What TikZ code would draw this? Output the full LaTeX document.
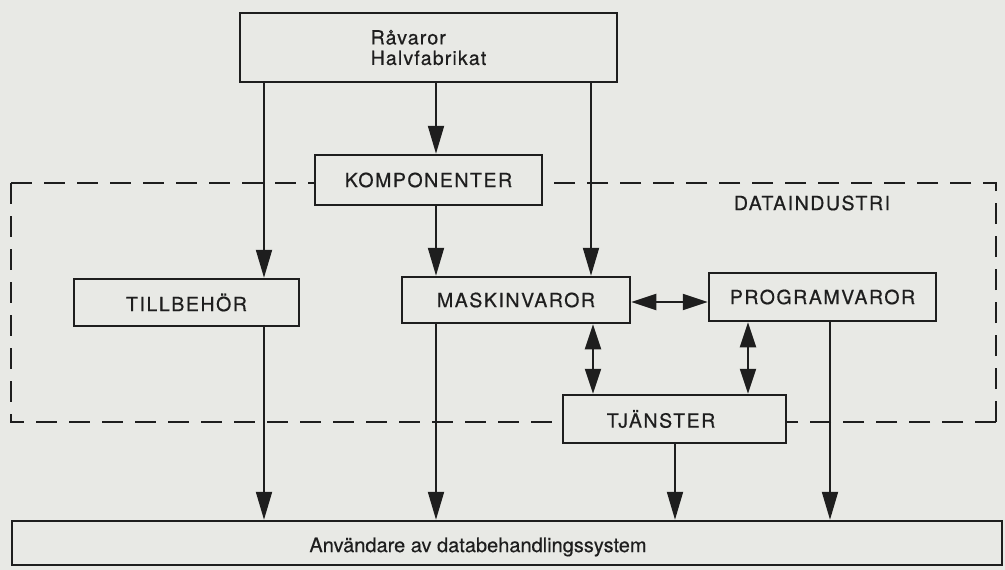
\documentclass[tikz,border=0pt]{standalone}
\usepackage{fontspec}
\setmainfont{TeX Gyre Heros}[FakeBold=0.4]
\newfontfamily\capsfont[LetterSpace=8,FakeBold=0.6]{TeX Gyre Heros}
\newfontfamily\lowfont[LetterSpace=6,FakeBold=0.6]{TeX Gyre Heros}
\usetikzlibrary{arrows.meta}
\definecolor{paper}{RGB}{232,233,229}
\definecolor{ink}{RGB}{30,30,30}
\begin{document}
\begin{tikzpicture}[x=1pt,y=-1pt,
  box/.style={draw=ink, line width=2.5pt, inner sep=0pt, text=ink},
  lbl/.style={text=ink, font=\capsfont\fontsize{19.5}{21}\selectfont},
  conn/.style={draw=ink, line width=2pt},
  arr/.style={conn, -{Triangle[length=28pt,width=16pt]}},
  darr/.style={conn, {Triangle[length=25pt,width=16pt]}-{Triangle[length=25pt,width=16pt]}},
  frame/.style={draw=ink, line width=2.4pt, dash pattern=on 21pt off 12pt}]
\fill[paper] (0,0) rectangle (1005,570);
\useasboundingbox (0,0) rectangle (1005,570);

% boxes
\node[box, minimum width=377pt, minimum height=69pt, align=left,
      font=\lowfont\fontsize{19.5}{20.5}\selectfont] (raw) at (428.5,47.5) {Råvaror\\Halvfabrikat};
\node[box, lbl, minimum width=227pt, minimum height=50pt] (komp) at (428.5,180) {KOMPONENTER};
\node[box, lbl, minimum width=225pt, minimum height=47pt] (till) at (186.5,302.5) {TILLBEHÖR};
\node[box, lbl, minimum width=228pt, minimum height=46pt] (mask) at (516,300) {MASKINVAROR};
\node[box, lbl, minimum width=227pt, minimum height=48pt] (prog) at (822.5,297) {PROGRAMVAROR};
\node[box, minimum width=223pt, minimum height=48pt] (tjan) at (674.5,419) {};
\node[lbl] (tjantext) at (661,419) {TJÄNSTER};
\node[box, minimum width=990pt, minimum height=44pt] (users) at (507,543) {};
\node[text=ink, font=\fontsize{20}{22}\selectfont] (usertext) at (478,547) {Användare av databehandlingssystem};
\node[lbl] (dind) at (812,203) {DATAINDUSTRI};

% dashed frame
\coordinate (tl) at (11,183);
\coordinate (bl) at (11,422);
\coordinate (tr) at (996,183);
\coordinate (br) at (996,422);
\draw[frame] (tl) -- (komp.west |- tl);
\draw[frame] (tl) -- (bl) -- (tjan.west |- bl);
\draw[frame] (br) -- (tjan.east |- br);
\draw[frame] (br) -- (tr) -- (komp.east |- tr);

% column positions
\coordinate (xa) at (264,0);
\coordinate (xb) at (436,0);
\coordinate (xc) at (591,0);
\coordinate (xd) at (593,0);
\coordinate (xe) at (748,0);
\coordinate (xf) at (675,0);
\coordinate (xg) at (830,0);
\coordinate (yh) at (0,302);

% connectors
\draw[arr] (raw.south -| xa) -- (till.north -| xa);
\draw[arr] (raw.south -| xb) -- (komp.north -| xb);
\draw[arr] (raw.south -| xc) -- (mask.north -| xc);
\draw[arr] (komp.south -| xb) -- (mask.north -| xb);
\draw[arr] (till.south -| xa) -- (users.north -| xa);
\draw[arr] (mask.south -| xb) -- (users.north -| xb);
\draw[arr] (tjan.south -| xf) -- (users.north -| xf);
\draw[arr] (prog.south -| xg) -- (users.north -| xg);
\draw[darr] (mask.east |- yh) -- (prog.west |- yh);
\draw[darr] (mask.south -| xd) -- (tjan.north -| xd);
\draw[darr] (prog.south -| xe) -- (tjan.north -| xe);
\end{tikzpicture}
\end{document}
